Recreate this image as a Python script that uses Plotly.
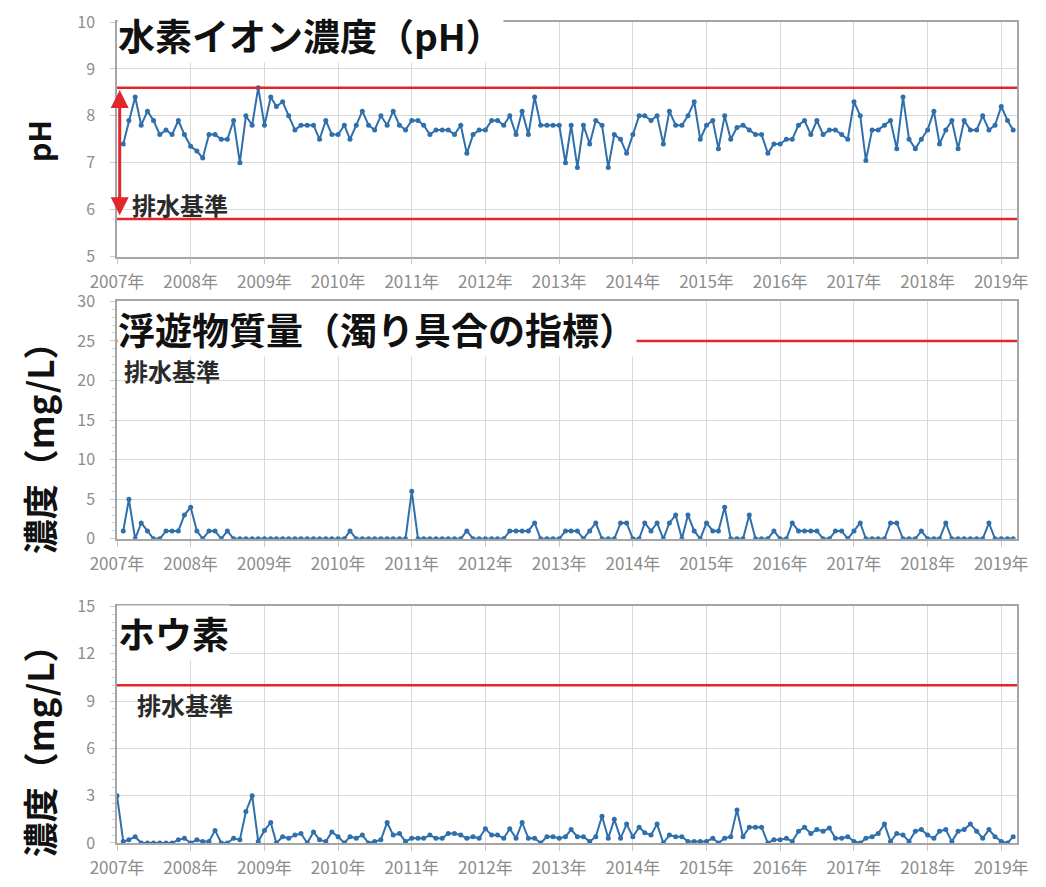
import pandas as pd
import plotly.graph_objects as go

# ---------------- data ----------------
ph_start = "2007-02-01"
ph_values = [
    7.4, 7.9, 8.4, 7.8, 8.1, 7.9, 7.6, 7.7, 7.6, 7.9, 7.6,            # 2007 (Feb-Dec)
    7.35, 7.25, 7.1, 7.6, 7.6, 7.5, 7.5, 7.9, 7.0, 8.0, 7.8, 8.6,     # 2008
    7.8, 8.4, 8.2, 8.3, 8.0, 7.7, 7.8, 7.8, 7.8, 7.5, 7.9, 7.6,       # 2009
    7.6, 7.8, 7.5, 7.8, 8.1, 7.8, 7.7, 8.0, 7.8, 8.1, 7.8, 7.7,       # 2010
    7.9, 7.9, 7.8, 7.6, 7.7, 7.7, 7.7, 7.6, 7.8, 7.2, 7.6, 7.7,       # 2011
    7.7, 7.9, 7.9, 7.8, 8.0, 7.6, 8.1, 7.6, 8.4, 7.8, 7.8, 7.8,       # 2012
    7.8, 7.0, 7.8, 6.9, 7.8, 7.4, 7.9, 7.8, 6.9, 7.6, 7.5, 7.2,       # 2013
    7.6, 8.0, 8.0, 7.9, 8.0, 7.4, 8.1, 7.8, 7.8, 8.0, 8.3, 7.5,       # 2014
    7.8, 7.9, 7.3, 8.0, 7.5, 7.75, 7.8, 7.7, 7.6, 7.6, 7.2, 7.4,      # 2015
    7.4, 7.5, 7.5, 7.8, 7.9, 7.6, 7.9, 7.6, 7.7, 7.7, 7.6, 7.5,       # 2016
    8.3, 8.0, 7.05, 7.7, 7.7, 7.8, 7.9, 7.3, 8.4, 7.5, 7.3, 7.5,      # 2017
    7.7, 8.1, 7.4, 7.7, 7.9, 7.3, 7.9, 7.7, 7.7, 8.0, 7.7, 7.8,       # 2018
    8.2, 7.9, 7.7,                                                     # 2019 (Jan-Mar)
]

ss_start = "2007-02-01"
ss_values = [
    1, 5, 0, 2, 1, 0, 0, 1, 1, 1, 3,            # 2007 (Feb-Dec)
    4, 1, 0, 1, 1, 0, 1, 0, 0, 0, 0, 0,         # 2008
    0, 0, 0, 0, 0, 0, 0, 0, 0, 0, 0, 0,         # 2009
    0, 0, 1, 0, 0, 0, 0, 0, 0, 0, 0, 0,         # 2010
    6, 0, 0, 0, 0, 0, 0, 0, 0, 1, 0, 0,         # 2011
    0, 0, 0, 0, 1, 1, 1, 1, 2, 0, 0, 0,         # 2012
    0, 1, 1, 1, 0, 1, 2, 0, 0, 0, 2, 2,         # 2013
    0, 0, 2, 1, 2, 0, 2, 3, 0, 3, 1, 0,         # 2014
    2, 1, 1, 4, 0, 0, 0, 3, 0, 0, 0, 1,         # 2015
    0, 0, 2, 1, 1, 1, 1, 0, 0, 1, 1, 0,         # 2016
    1, 2, 0, 0, 0, 0, 2, 2, 0, 0, 0, 1,         # 2017
    0, 0, 0, 2, 0, 0, 0, 0, 0, 0, 2, 0,         # 2018
    0, 0, 0,                                    # 2019 (Jan-Mar)
]

boron_start = "2007-01-01"
boron_values = [
    3.0, 0.1, 0.2, 0.4, 0.0, 0.0, 0.0, 0.0, 0.0, 0.0, 0.2, 0.3,       # 2007
    0.0, 0.2, 0.1, 0.1, 0.8, 0.0, 0.0, 0.3, 0.2, 2.0, 3.0, 0.1,       # 2008
    0.8, 1.3, 0.0, 0.4, 0.3, 0.5, 0.6, 0.0, 0.7, 0.2, 0.1, 0.7,       # 2009
    0.4, 0.0, 0.4, 0.3, 0.5, 0.0, 0.1, 0.2, 1.3, 0.5, 0.6, 0.1,       # 2010
    0.3, 0.3, 0.3, 0.5, 0.3, 0.3, 0.6, 0.6, 0.5, 0.3, 0.4, 0.3,       # 2011
    0.9, 0.5, 0.5, 0.3, 0.9, 0.3, 1.3, 0.3, 0.3, 0.0, 0.4, 0.4,       # 2012
    0.3, 0.4, 0.85, 0.4, 0.4, 0.1, 0.4, 1.7, 0.3, 1.5, 0.3, 1.2,      # 2013
    0.4, 1.0, 0.65, 0.5, 1.2, 0.0, 0.5, 0.4, 0.4, 0.1, 0.1, 0.1,      # 2014
    0.1, 0.3, 0.0, 0.3, 0.4, 2.1, 0.4, 1.0, 1.0, 1.0, 0.0, 0.2,       # 2015
    0.2, 0.3, 0.1, 0.75, 1.0, 0.6, 0.85, 0.75, 0.95, 0.3, 0.3, 0.4,   # 2016
    0.1, 0.0, 0.3, 0.4, 0.6, 1.2, 0.1, 0.6, 0.5, 0.1, 0.75, 0.85,     # 2017
    0.5, 0.3, 0.75, 0.85, 0.1, 0.75, 0.85, 1.2, 0.75, 0.3, 0.85, 0.4, # 2018
    0.1, 0.0, 0.4,                                                     # 2019 (Jan-Mar)
]

year_ticks = list(range(2007, 2020))
year_labels = [f"{y}年" for y in year_ticks]

ph_limits = [8.6, 5.8]      # 排水基準 (upper, lower)
ss_limit = 25               # 排水基準 mg/L
boron_limit = 10            # 排水基準 mg/L

titles = ["水素イオン濃度（pH）", "浮遊物質量（濁り具合の指標）", "ホウ素"]
y_titles = ["pH", "濃度（mg/L）", "濃度（mg/L）"]
standard_label = "排水基準"

# ---------------- figure ----------------
FONT = "Noto Sans CJK JP"
BLUE = "#2f6fab"
RED = "#e3262b"
GRID = "#d9d9d9"
TICK_GRAY = "#8c8c8c"
X_RANGE = ["2007-01-01", "2019-03-20"]

ph_dates = pd.date_range(ph_start, periods=len(ph_values), freq="MS")
ss_dates = pd.date_range(ss_start, periods=len(ss_values), freq="MS")
boron_dates = pd.date_range(boron_start, periods=len(boron_values), freq="MS")

fig = go.Figure()
for i, (xd, yv) in enumerate([(ph_dates, ph_values), (ss_dates, ss_values), (boron_dates, boron_values)]):
    suffix = "" if i == 0 else str(i + 1)
    fig.add_trace(go.Scatter(
        x=xd, y=yv, xaxis="x" + suffix, yaxis="y" + suffix,
        mode="lines+markers",
        line=dict(color=BLUE, width=2),
        marker=dict(color=BLUE, size=5),
        showlegend=False,
    ))

domains = [(0.7143, 1.0), (0.3705, 0.6598), (0.0, 0.2881)]
y_ranges = [(5, 10), (0, 30), (0, 15)]
y_dticks = [1, 5, 3]
y_minor = [None, 1, 0.5]

# page body has an 8px margin: figure is sized/positioned to compensate
layout = dict(
    width=1038, height=879,
    margin=dict(l=109, r=29, t=14, b=44, autoexpand=False),
    paper_bgcolor="white", plot_bgcolor="white",
    font=dict(family=FONT),
    showlegend=False,
)

for i in range(3):
    suffix = "" if i == 0 else str(i + 1)
    layout["xaxis" + suffix] = dict(
        type="date", range=X_RANGE, anchor="y" + suffix, automargin=False,
        tickvals=[f"{y}-01-01" for y in year_ticks], ticktext=year_labels,
        showgrid=True, gridcolor=GRID, gridwidth=1,
        showline=True, linecolor="#a6a6a6", linewidth=1.5, mirror=True,
        ticks="outside", ticklen=6, tickcolor="#c8c8c8",
        tickfont=dict(family=FONT, size=17, color=TICK_GRAY),
        ticklabelstandoff=3, ticklabeloverflow="allow", zeroline=False,
    )
    ydict = dict(
        domain=list(domains[i]), range=list(y_ranges[i]), anchor="x" + suffix, automargin=False,
        dtick=y_dticks[i], tick0=0,
        showgrid=True, gridcolor=GRID, gridwidth=1,
        showline=True, linecolor="#a6a6a6", linewidth=1.5, mirror=True,
        ticks="outside", ticklen=5, tickcolor="#c8c8c8",
        tickfont=dict(family=FONT, size=16, color=TICK_GRAY),
        ticklabelstandoff=12, ticklabeloverflow="allow", zeroline=False,
    )
    if y_minor[i]:
        ydict["minor"] = dict(dtick=y_minor[i], ticks="outside", ticklen=3, tickcolor="#d0d0d0", showgrid=False)
    layout["yaxis" + suffix] = ydict

fig.update_layout(**layout)

# standard lines
shapes = []
for v in ph_limits:
    shapes.append(dict(type="line", xref="x domain", yref="y", x0=0, x1=1, y0=v, y1=v,
                       line=dict(color=RED, width=2.5)))
shapes.append(dict(type="line", xref="x2 domain", yref="y2", x0=0, x1=1, y0=ss_limit, y1=ss_limit,
                   line=dict(color=RED, width=2.5)))
shapes.append(dict(type="line", xref="x3 domain", yref="y3", x0=0, x1=1, y0=boron_limit, y1=boron_limit,
                   line=dict(color=RED, width=2.5)))
fig.update_layout(shapes=shapes)

ann = []
# double arrow for pH range
ann.append(dict(xref="x domain", yref="y", x=0.003, y=ph_limits[0] - 0.05,
                axref="x domain", ayref="y", ax=0.003, ay=ph_limits[1] + 0.05,
                text="", showarrow=True, arrowside="end+start", arrowhead=2,
                arrowsize=1.2, arrowwidth=3, arrowcolor=RED))

# panel titles (white background)
title_pos = [0.984, 0.6262, 0.2554]
for t, yp in zip(titles, title_pos):
    ann.append(dict(xref="paper", yref="paper", x=0.0, y=yp, xanchor="left", yanchor="middle",
                    text=f"<b>{t}</b>", showarrow=False, bgcolor="white", borderpad=0,
                    font=dict(family=FONT, size=37, color="#111111")))

# 排水基準 labels
std_pos = [(0.0144, 0.778), (0.0056, 0.5755), (0.02, 0.1683)]
for xp, yp in std_pos:
    ann.append(dict(xref="paper", yref="paper", x=xp, y=yp, xanchor="left", yanchor="middle",
                    text=f"<b>{standard_label}</b>", showarrow=False,
                    font=dict(family=FONT, size=24, color="#2a2a2a")))

# y-axis titles
ytitle_pos = [0.8547, 0.4915, 0.1223]
ytitle_size = [30, 35, 35]
for t, yp, fs in zip(y_titles, ytitle_pos, ytitle_size):
    ann.append(dict(xref="paper", yref="paper", x=-0.087, y=yp, xanchor="center", yanchor="middle",
                    text=f"<b>{t}</b>", textangle=-90, showarrow=False,
                    font=dict(family=FONT, size=fs, color="#111111")))

fig.update_layout(annotations=ann)

fig.write_html("out.html")
